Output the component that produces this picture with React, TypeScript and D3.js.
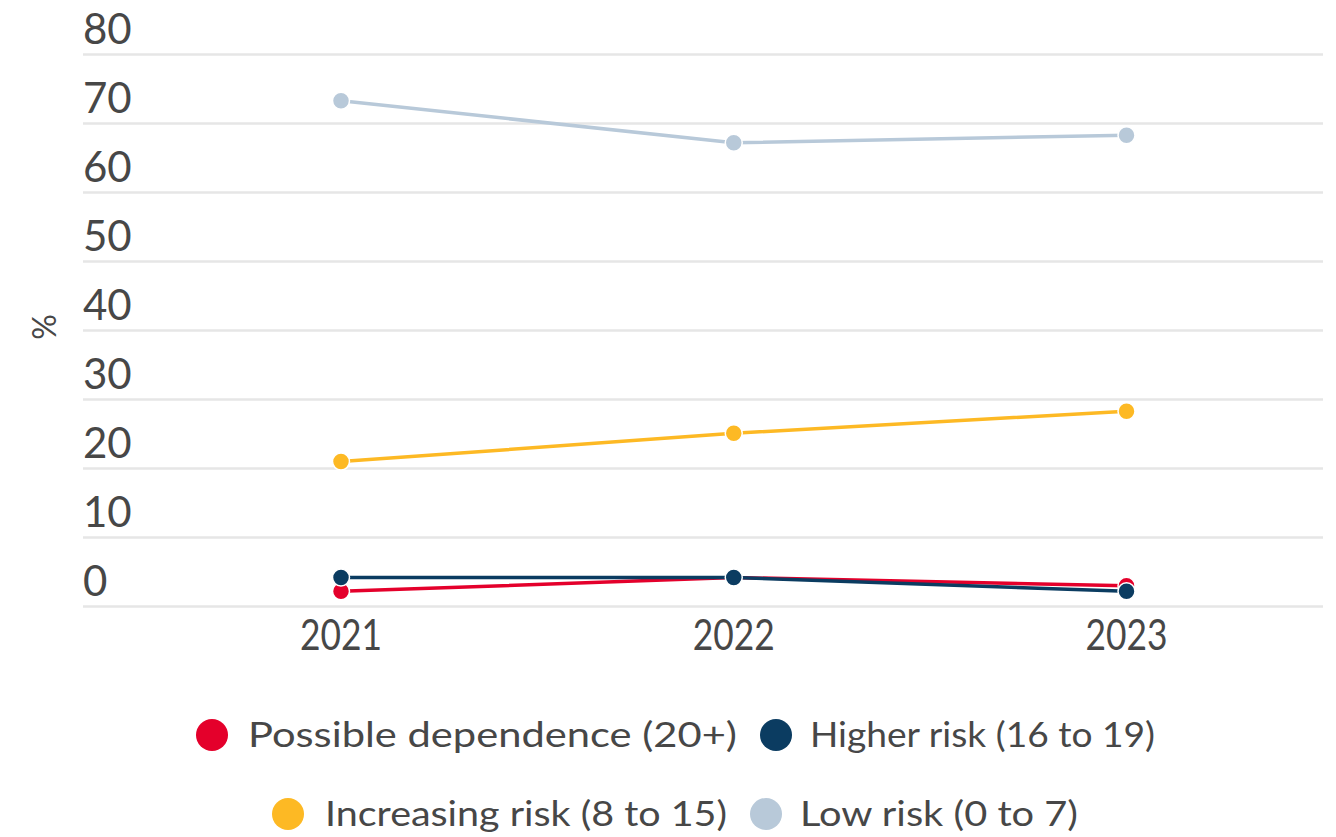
import React from "react";
import * as d3 from "d3";

const years = ["2021", "2022", "2023"];
const seriesNames = [
  "Possible dependence (20+)",
  "Higher risk (16 to 19)",
  "Increasing risk (8 to 15)",
  "Low risk (0 to 7)",
];
const seriesColors = ["#e4002b", "#0b3c61", "#fdb924", "#b8c9d9"];
const possibleDependence = [2.2, 4.2, 3.0];
const higherRisk = [4.2, 4.2, 2.2];
const increasingRisk = [21.0, 25.1, 28.3];
const lowRisk = [73.3, 67.2, 68.3];
const yTicks = [0, 10, 20, 30, 40, 50, 60, 70, 80];

const seriesValues = [possibleDependence, higherRisk, increasingRisk, lowRisk];

const W = 1336;
const H = 837;
const FONT = "Lato, 'Noto Sans', sans-serif";
const TEXT = "#474747";

export default function App() {
  const x = d3.scalePoint<string>().domain(years).range([341, 1126.5]);
  const y = d3.scaleLinear().domain([0, 80]).range([606.5, 54.5]);
  const line = d3
    .line<number>()
    .x((_, i) => x(years[i]) as number)
    .y((d) => y(d));

  const legendRows = [
    [
      { i: 0, cx: 212, tx: 248, w: 489 },
      { i: 1, cx: 776, tx: 810, w: 345 },
    ],
    [
      { i: 2, cx: 288, tx: 325, w: 402 },
      { i: 3, cx: 766, tx: 800, w: 278 },
    ],
  ];
  const legendY = [735, 814];

  return (
    <svg
      width={W}
      height={H}
      style={{ position: "absolute", left: 0, top: 0, background: "#fff" }}
    >
      {yTicks.map((t) => (
        <g key={t}>
          <line x1={83} x2={1323} y1={y(t)} y2={y(t)} stroke="#e6e6e6" strokeWidth={2.5} />
          <text x={83} y={y(t) - 11} fontFamily={FONT} fontSize={42} fill={TEXT}>
            {t}
          </text>
        </g>
      ))}
      <text
        transform="translate(56,327) rotate(-90)"
        textAnchor="middle"
        fontFamily={FONT}
        fontSize={32}
        fill={TEXT}
      >
        %
      </text>
      {years.map((yr) => (
        <text
          key={yr}
          x={(x(yr) as number) - 41}
          y={650}
          textLength={82}
          lengthAdjust="spacingAndGlyphs"
          fontFamily={FONT}
          fontSize={42}
          fill={TEXT}
        >
          {yr}
        </text>
      ))}
      {seriesValues.map((vals, si) => (
        <g key={si}>
          <path d={line(vals) || ""} fill="none" stroke={seriesColors[si]} strokeWidth={3.5} />
          {vals.map((v, i) => (
            <circle
              key={i}
              cx={x(years[i])}
              cy={y(v)}
              r={8.5}
              fill={seriesColors[si]}
              stroke="#fff"
              strokeWidth={1.5}
            />
          ))}
        </g>
      ))}
      {legendRows.map((row, ri) =>
        row.map((it) => (
          <g key={it.i}>
            <circle cx={it.cx} cy={legendY[ri]} r={16} fill={seriesColors[it.i]} />
            <text
              x={it.tx}
              y={legendY[ri]}
              dy="0.35em"
              textLength={it.w}
              lengthAdjust="spacingAndGlyphs"
              fontFamily={FONT}
              fontSize={34}
              fill={TEXT}
            >
              {seriesNames[it.i]}
            </text>
          </g>
        ))
      )}
    </svg>
  );
}
